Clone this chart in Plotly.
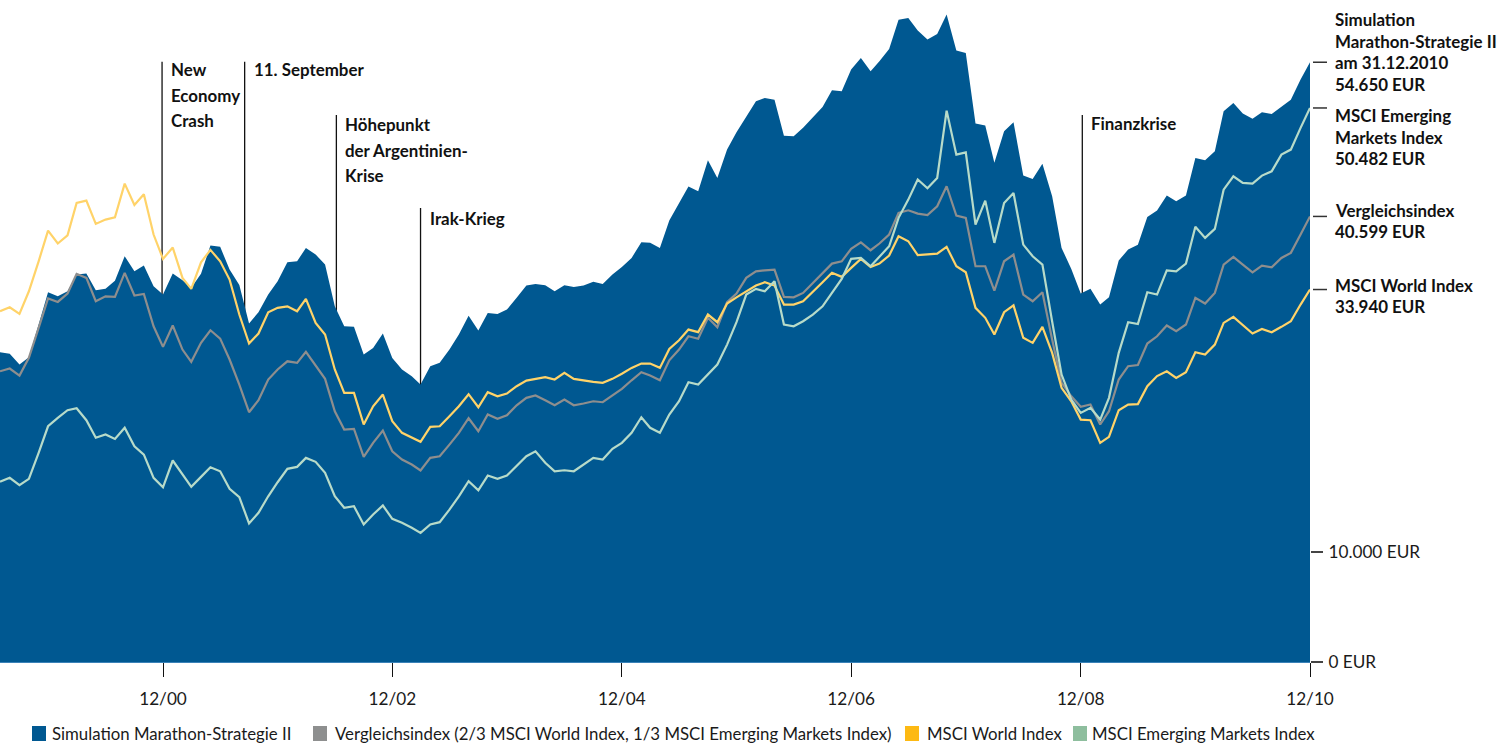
import pandas as pd
import plotly.graph_objects as go

# ---------------- data (monthly, Jul 1999 - Dec 2010, EUR) ----------------
months = pd.date_range("1999-07-01", "2010-12-01", freq="MS")

marathon = [
    28220, 28080, 27100, 27770, 30750, 33690, 33320, 33780, 35300, 35390,
    33870, 34000, 34750, 36970, 35600, 36120, 34240, 33480, 35390, 34780,
    34090, 35370, 37940, 37830, 35760, 34350, 30840, 31870, 33480, 34690,
    36420, 36510, 37730, 37120, 36210, 32410, 30590, 30540, 28010, 28620,
    29930, 27710, 26650, 26040, 25280, 26950, 27260, 28470, 29840, 31540,
    30200, 31810, 31720, 32110, 33180, 34300, 34450, 34330, 33780, 34330,
    34180, 34300, 34640, 34450, 35300, 36000, 36820, 38240, 38190, 37730,
    40220, 41740, 43320, 42890, 45710, 44110, 46690, 48270, 49670, 51090,
    51400, 51240, 47960, 47900, 48670, 49580, 50580, 52090, 52000, 53980,
    55040, 53820, 54730, 55860, 58530, 58690, 57530, 56710, 57230, 58990,
    55710, 55500, 49060, 48880, 45480, 48360, 49180, 44320, 44020, 45390,
    42430, 37730, 35820, 33570, 34000, 32570, 33230, 36580, 37580, 38030,
    40540, 41130, 42500, 41980, 42500, 45930, 45710, 46530, 50180, 50940,
    49970, 49490, 50090, 49940, 50630, 51240, 53070, 54650,
]

vergleich = [
    26490, 26740, 26100, 27710, 30450, 33120, 32810, 33570, 35370, 35000,
    32870, 33320, 33270, 35460, 33390, 33540, 30590, 28710, 30660, 28470,
    27350, 29080, 30230, 29470, 27560, 25280, 22760, 23850, 25740, 26650,
    27400, 27260, 28260, 26950, 25800, 22850, 21180, 21250, 18690, 19970,
    21090, 19200, 18450, 17990, 17450, 18600, 18750, 19810, 20880, 22210,
    21030, 22550, 22160, 22480, 23390, 24070, 24280, 23850, 23390, 23910,
    23390, 23550, 23760, 23670, 24280, 24890, 25670, 26400, 26100, 25670,
    27490, 28470, 29680, 29450, 31360, 30500, 32780, 33570, 35000, 35600,
    35690, 35760, 33270, 33230, 33630, 34550, 35460, 36300, 36510, 37640,
    38240, 37520, 38130, 38950, 40920, 41160, 40860, 40720, 41520, 43350,
    40680, 40470, 36060, 36060, 33840, 36510, 37120, 33480, 32870, 33690,
    29380, 25460, 24210, 23250, 23460, 21640, 22850, 25740, 26950, 27060,
    29020, 29680, 30660, 30140, 30750, 33180, 32660, 33630, 36210, 36910,
    36210, 35510, 36120, 35970, 36820, 37280, 38950, 40599,
]

msci_world = [
    31960, 32320, 31720, 33780, 36510, 39310, 38130, 38880, 41830, 42040,
    39920, 40310, 40520, 43590, 41650, 42620, 38950, 36730, 37760, 35000,
    34000, 36420, 37550, 36510, 34850, 31660, 29020, 29930, 31870, 32270,
    32410, 31960, 33090, 30900, 29840, 26650, 24520, 24520, 21640, 23300,
    24370, 21940, 20880, 20430, 20060, 21430, 21480, 22390, 23300, 24400,
    23210, 24580, 24210, 24460, 25130, 25640, 25800, 25950, 25740, 26350,
    25800, 25640, 25530, 25440, 25800, 26260, 26800, 27190, 27190, 26800,
    28530, 29320, 30290, 30060, 31660, 30960, 32660, 33230, 33780, 34300,
    34600, 34300, 32570, 32570, 32870, 33690, 34600, 35460, 35090, 35910,
    36730, 36000, 36300, 37030, 38790, 38340, 37080, 37150, 37210, 37830,
    36060, 35510, 32270, 31360, 29840, 31870, 32500, 29540, 29080, 30540,
    28170, 24980, 23760, 22090, 22030, 19970, 20520, 22940, 23460, 23500,
    25130, 26050, 26490, 25890, 26400, 28220, 28010, 28920, 30900, 31450,
    30660, 29930, 30350, 30050, 30540, 31050, 32570, 33940,
]

msci_em = [
    16420, 16780, 16110, 16690, 19060, 21480, 22250, 22940, 23120, 22030,
    20430, 20730, 20330, 21340, 19660, 18900, 16780, 15920, 18360, 17150,
    15960, 16870, 17750, 17380, 15780, 15030, 12620, 13590, 15100, 16380,
    17600, 17780, 18600, 18240, 17240, 15100, 14050, 14190, 12530, 13440,
    14260, 13050, 12680, 12230, 11770, 12530, 12740, 13890, 15100, 16470,
    15650, 16990, 16690, 16990, 17900, 18750, 19200, 18150, 17380, 17470,
    17380, 17990, 18600, 18450, 19420, 19970, 20880, 22300, 21340, 20880,
    22550, 23760, 25490, 25280, 26190, 27100, 28920, 30960, 33480, 34000,
    33780, 34690, 30750, 30590, 31050, 31660, 32410, 33630, 34910, 36730,
    36820, 36060, 36970, 37880, 40470, 42130, 43960, 43160, 44110, 50240,
    46230, 46440, 39860, 42040, 38190, 41830, 42740, 38030, 36970, 36210,
    31020, 26190, 23910, 22700, 23160, 22090, 24070, 28170, 30960, 30790,
    33690, 33480, 35690, 35600, 36300, 39650, 38640, 39460, 43040, 44260,
    43660, 43590, 44320, 44710, 46230, 46690, 48670, 50482,
]

x_tick_vals = ["2000-12-01", "2002-12-01", "2004-12-01", "2006-12-01", "2008-12-01", "2010-12-01"]
x_tick_text = ["12/00", "12/02", "12/04", "12/06", "12/08", "12/10"]
y_tick_vals = [0, 10000]
y_tick_text = ["0 EUR", "10.000 EUR"]

series_names = [
    "Simulation Marathon-Strategie II",
    "Vergleichsindex (2/3 MSCI World Index, 1/3 MSCI Emerging Markets Index)",
    "MSCI World Index",
    "MSCI Emerging Markets Index",
]

event_dates = ["2000-11-28", "2001-08-18", "2002-06-06", "2003-03-01", "2008-12-06"]
event_labels = [["New", "Economy", "Crash"], ["11. September"],
                ["Höhepunkt", "der Argentinien-", "Krise"], ["Irak-Krieg"], ["Finanzkrise"]]

end_labels = [
    ["Simulation", "Marathon-Strategie II", "am 31.12.2010", "54.650 EUR"],
    ["MSCI Emerging", "Markets Index", "50.482 EUR"],
    ["Vergleichsindex", "40.599 EUR"],
    ["MSCI World Index", "33.940 EUR"],
]

# ---------------- style ----------------
BLUE = "#005891"
GRAY = "#8e8e8e"
YELLOW = "#ffd369"
MINT = "#b7dbc9"
LEG_COLORS = [BLUE, "#8e8f8f", "#fdb913", "#8ebe9e"]
FONT = "Lato, Roboto, sans-serif"
LABEL_SIZE = 16.9
TEXT_SIZE = 16.8
TICK_SIZE = 17.2

W, H = 1509, 747
PLOT_W, PLOT_H = 1310, 662


def py(p):
    return (PLOT_H - p) / PLOT_H


def px(p):
    return p / PLOT_W


fig = go.Figure()
fig.add_trace(go.Scatter(x=months, y=marathon, name=series_names[0], mode="lines",
                         fill="tozeroy", fillcolor=BLUE, line=dict(color=BLUE, width=0),
                         showlegend=False))
fig.add_trace(go.Scatter(x=months, y=vergleich, name=series_names[1], mode="lines",
                         line=dict(color=GRAY, width=2.2), showlegend=False))
fig.add_trace(go.Scatter(x=months, y=msci_world, name=series_names[2], mode="lines",
                         line=dict(color=YELLOW, width=2.2), showlegend=False))
fig.add_trace(go.Scatter(x=months, y=msci_em, name=series_names[3], mode="lines",
                         line=dict(color=MINT, width=2.2), showlegend=False))

shapes = []
annotations = []

event_tops = [61.7, 61.7, 115, 208, 115]
event_centers = [[69.7, 95.8, 121], [69.5], [124.5, 150.3, 175.5], [218], [123.5]]
for d, lines, top, cens in zip(event_dates, event_labels, event_tops, event_centers):
    shapes.append(dict(type="line", xref="x", yref="paper", x0=d, x1=d, y0=0, y1=py(top),
                       line=dict(color="#111111", width=1.3), layer="below"))
    for t, c in zip(lines, cens):
        annotations.append(dict(x=d, xref="x", y=py(c), yref="paper", xanchor="left",
                                yanchor="middle", xshift=7, align="left", showarrow=False,
                                text="<b>" + t + "</b>",
                                font=dict(family=FONT, size=LABEL_SIZE, color="#111111")))

end_values = [marathon[-1], msci_em[-1], vergleich[-1], msci_world[-1]]
end_centers = [[19.7, 41.3, 62.8, 84.2], [116, 137.4, 158.6], [211, 231.5], [285, 306]]
for val, lines, cens in zip(end_values, end_labels, end_centers):
    shapes.append(dict(type="line", xref="paper", yref="y", x0=px(1313), x1=px(1327),
                       y0=val, y1=val, line=dict(color="#333333", width=1.5)))
    for t, c in zip(lines, cens):
        annotations.append(dict(x=px(1333), xref="paper", y=py(c), yref="paper",
                                xanchor="left", yanchor="middle", showarrow=False,
                                text="<b>" + t + "</b>",
                                font=dict(family=FONT, size=LABEL_SIZE, color="#111111")))

leg_swatch_x = [32, 313, 905, 1073]
leg_text_x = [50, 333, 925, 1090]
for name, col, sx, tx in zip(series_names, LEG_COLORS, leg_swatch_x, leg_text_x):
    shapes.append(dict(type="rect", xref="paper", yref="paper", x0=px(sx), x1=px(sx + 14),
                       y0=py(741), y1=py(726), fillcolor=col, line=dict(width=0)))
    annotations.append(dict(x=px(tx), xref="paper", y=py(733.5), yref="paper",
                            xanchor="left", yanchor="middle", showarrow=False, text=name,
                            font=dict(family=FONT, size=TEXT_SIZE, color="#1a1a1a")))

fig.update_layout(
    width=W, height=H,
    margin=dict(l=0, r=W - PLOT_W, t=0, b=H - PLOT_H),
    plot_bgcolor="white", paper_bgcolor="white",
    font=dict(family=FONT, size=TEXT_SIZE, color="#1a1a1a"),
    showlegend=False,
    shapes=shapes, annotations=annotations,
    xaxis=dict(type="date", range=["1999-07-01", "2010-12-01"],
               tickvals=x_tick_vals, ticktext=x_tick_text,
               ticks="outside", ticklen=14, tickcolor="#111111", tickwidth=1,
               ticklabelstandoff=7,
               showgrid=False, zeroline=False, showline=True, linecolor="#3b82b8",
               linewidth=1, tickfont=dict(family=FONT, size=TICK_SIZE, color="#1a1a1a")),
    yaxis=dict(side="right", range=[0, 60320], tickvals=y_tick_vals, ticktext=y_tick_text,
               ticks="outside", ticklen=12, tickcolor="#444444", tickwidth=1.5,
               ticklabelstandoff=2,
               showgrid=False, zeroline=False, showline=False,
               tickfont=dict(family=FONT, size=TICK_SIZE, color="#1a1a1a")),
)

fig.write_html("out.html", config={"displayModeBar": False},
               post_script="document.body.style.margin='0';document.body.style.overflow='hidden';")
